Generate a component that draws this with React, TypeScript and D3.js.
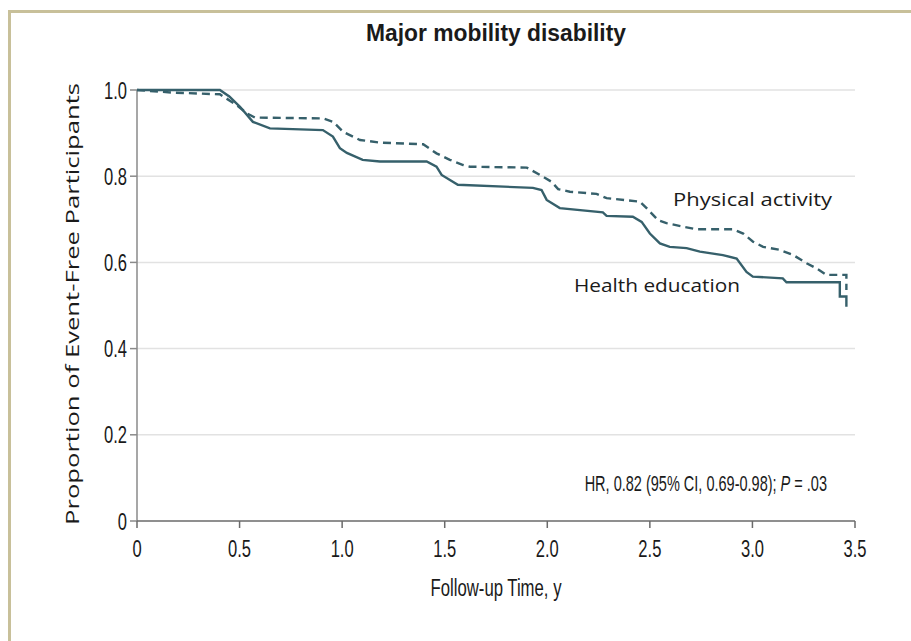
import React from "react";
import * as d3 from "d3";

// Kaplan-Meier estimates, event-free proportion by follow-up year
const healthEduTime = [0, 0.404, 0.45, 0.502, 0.565, 0.648, 0.906, 0.955, 0.989, 1.023, 1.1, 1.184, 1.412, 1.46, 1.485, 1.564, 1.93, 1.972, 1.997, 2.061, 2.271, 2.289, 2.417, 2.46, 2.5, 2.549, 2.597, 2.679, 2.744, 2.856, 2.923, 2.971, 3.002, 3.148, 3.166, 3.426, 3.426, 3.458, 3.458];
const healthEduSurv = [1.0, 1.0, 0.985, 0.961, 0.926, 0.911, 0.907, 0.892, 0.865, 0.854, 0.838, 0.834, 0.834, 0.822, 0.803, 0.78, 0.773, 0.768, 0.745, 0.726, 0.716, 0.708, 0.706, 0.694, 0.667, 0.644, 0.636, 0.633, 0.625, 0.617, 0.609, 0.578, 0.567, 0.563, 0.554, 0.554, 0.521, 0.521, 0.497];

const physActTime = [0, 0.175, 0.404, 0.486, 0.535, 0.575, 0.908, 0.957, 1.005, 1.087, 1.184, 1.395, 1.46, 1.525, 1.59, 1.623, 1.9, 1.964, 2.021, 2.053, 2.11, 2.24, 2.289, 2.451, 2.484, 2.54, 2.581, 2.662, 2.727, 2.906, 2.955, 3.003, 3.052, 3.134, 3.199, 3.264, 3.313, 3.361, 3.458, 3.458];
const physActSurv = [1.0, 0.994, 0.99, 0.965, 0.946, 0.936, 0.934, 0.926, 0.903, 0.884, 0.878, 0.874, 0.853, 0.838, 0.826, 0.822, 0.82, 0.803, 0.787, 0.77, 0.764, 0.759, 0.749, 0.741, 0.726, 0.698, 0.691, 0.683, 0.677, 0.677, 0.667, 0.648, 0.636, 0.629, 0.617, 0.598, 0.586, 0.571, 0.571, 0.536];

const xTicks = [0, 0.5, 1.0, 1.5, 2.0, 2.5, 3.0, 3.5];
const xTickLabels = ["0", "0.5", "1.0", "1.5", "2.0", "2.5", "3.0", "3.5"];
const yTicks = [0, 0.2, 0.4, 0.6, 0.8, 1.0];
const yTickLabels = ["0", "0.2", "0.4", "0.6", "0.8", "1.0"];

const W = 911;
const H = 641;
const LINE = "#36606b";
const INK = "#1a1a1a";
const NARROW = "'Liberation Sans', Arial, sans-serif";
const REGULAR = "'Open Sans', 'Noto Sans', sans-serif";

// Condensed text: a regular sans squeezed horizontally
function Narrow(props: {
  x: number;
  y: number;
  anchor?: "start" | "middle" | "end";
  size?: number;
  weight?: string;
  squeeze?: number;
  children: React.ReactNode;
}) {
  const { x, y, anchor = "start", size = 23, weight = "normal", squeeze = 0.72, children } = props;
  return (
    <text
      transform={`translate(${x},${y}) scale(${squeeze},1)`}
      textAnchor={anchor}
      fontFamily={NARROW}
      fontSize={size}
      fontWeight={weight}
      fill={INK}
    >
      {children}
    </text>
  );
}

export default function App() {
  const x = d3.scaleLinear().domain([0, 3.5]).range([137, 855]);
  const y = d3.scaleLinear().domain([0, 1]).range([521, 90]);

  const line = d3
    .line<[number, number]>()
    .x((d) => x(d[0]))
    .y((d) => y(d[1]))
    .curve(d3.curveLinear);

  const he = healthEduTime.map((t, i) => [t, healthEduSurv[i]] as [number, number]);
  const pa = physActTime.map((t, i) => [t, physActSurv[i]] as [number, number]);

  return (
    <svg
      width={W}
      height={H}
      style={{ position: "absolute", left: 0, top: 0, background: "#fff" }}
    >
      {/* frame */}
      <line x1={9.5} y1={10} x2={9.5} y2={H} stroke="#c8c09a" strokeWidth={3} />
      <line x1={8} y1={11.5} x2={W} y2={11.5} stroke="#c8c09a" strokeWidth={3} />

      <text
        x={496}
        y={41}
        textAnchor="middle"
        fontFamily={NARROW}
        fontSize={23}
        fontWeight="bold"
        fill={INK}
        textLength={260}
        lengthAdjust="spacingAndGlyphs"
      >
        Major mobility disability
      </text>

      {/* grid */}
      {yTicks.filter((v) => v > 0).map((v) => (
        <line key={v} x1={x(0)} x2={x(3.5)} y1={y(v)} y2={y(v)} stroke="#e2e2e2" strokeWidth={1.5} />
      ))}

      {/* y axis */}
      <line x1={x(0)} x2={x(0)} y1={y(1)} y2={y(0)} stroke="#8a8a8a" strokeWidth={1.5} />
      {yTicks.map((v, i) => (
        <g key={v}>
          <line x1={x(0) - 7} x2={x(0)} y1={y(v)} y2={y(v)} stroke="#8a8a8a" strokeWidth={1.5} />
          <Narrow x={x(0) - 10} y={y(v) + 8.5} anchor="end">
            {yTickLabels[i]}
          </Narrow>
        </g>
      ))}

      {/* x axis */}
      <line x1={x(0)} x2={x(3.5)} y1={y(0)} y2={y(0)} stroke="#6a6a6a" strokeWidth={1.5} />
      {xTicks.map((t, i) => (
        <g key={t}>
          <line x1={x(t)} x2={x(t)} y1={y(0)} y2={y(0) + 7} stroke="#6a6a6a" strokeWidth={1.5} />
          <Narrow x={x(t)} y={557} anchor="middle">
            {xTickLabels[i]}
          </Narrow>
        </g>
      ))}

      <text
        x={496}
        y={596}
        textAnchor="middle"
        fontFamily={NARROW}
        fontSize={23}
        fill={INK}
        textLength={131}
        lengthAdjust="spacingAndGlyphs"
      >
        Follow-up Time, y
      </text>

      <text
        transform={`translate(79, 304) rotate(-90)`}
        textAnchor="middle"
        fontFamily={REGULAR}
        fontSize={19}
        fill={INK}
        textLength={442}
        lengthAdjust="spacingAndGlyphs"
      >
        Proportion of Event-Free Participants
      </text>

      {/* survival curves */}
      <path d={line(pa) || ""} fill="none" stroke={LINE} strokeWidth={2.4} strokeDasharray="8 5" />
      <path d={line(he) || ""} fill="none" stroke={LINE} strokeWidth={2.4} />

      <text
        x={673}
        y={206}
        fontFamily={REGULAR}
        fontSize={19}
        fill={INK}
        textLength={159}
        lengthAdjust="spacingAndGlyphs"
      >
        Physical activity
      </text>
      <text
        x={574}
        y={292}
        fontFamily={REGULAR}
        fontSize={19}
        fill={INK}
        textLength={166}
        lengthAdjust="spacingAndGlyphs"
      >
        Health education
      </text>

      <Narrow x={827} y={491} anchor="end" size={22} squeeze={0.66}>
        HR, 0.82 (95% CI, 0.69-0.98); <tspan fontStyle="italic">P</tspan> = .03
      </Narrow>
    </svg>
  );
}
